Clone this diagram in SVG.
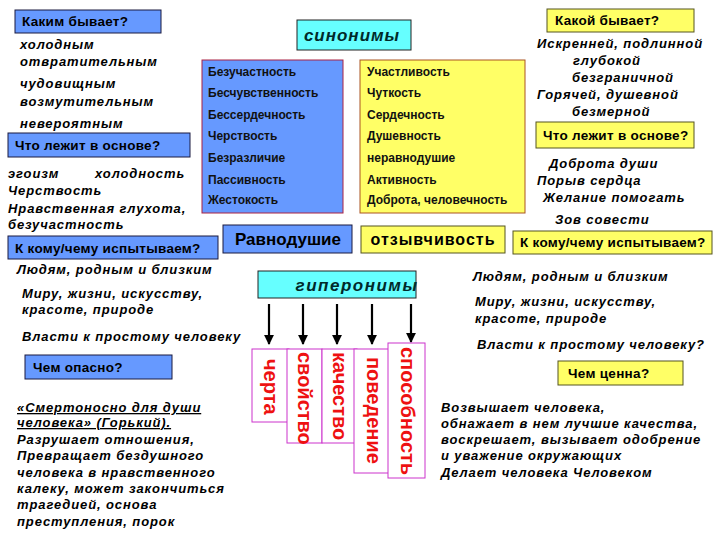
<svg xmlns="http://www.w3.org/2000/svg" width="720" height="540" viewBox="0 0 720 540">
<defs>
<style>
.bl{fill:#6699FF;stroke:#1a1a40;stroke-width:1}
.ye{fill:#FFFF66;stroke:#555520;stroke-width:1}
.cy{fill:#66FFFF;stroke:#222;stroke-width:1}
.hd{font-family:"Liberation Sans",Arial,sans-serif;font-weight:bold;font-size:13.5px;fill:#000;letter-spacing:0.3px}
.it{font-family:"Liberation Sans",Arial,sans-serif;font-weight:bold;font-style:italic;font-size:13px;fill:#000;letter-spacing:0.9px}
.sm{font-family:"Liberation Sans",Arial,sans-serif;font-weight:bold;font-size:12px;fill:#111}
.vb{fill:#fff;stroke:#CC33CC;stroke-width:1}
.vt{font-family:"Liberation Sans",Arial,sans-serif;font-weight:bold;font-size:20px;fill:#EE1111}
.con{stroke:#000;stroke-width:2.2;fill:none}
</style>
<marker id="ah" viewBox="0 0 10 10" refX="9" refY="5" markerWidth="4.5" markerHeight="4.5" orient="auto">
<path d="M0,0 L10,5 L0,10 z" fill="#000"/>
</marker>
</defs>
<rect width="720" height="540" fill="#fff"/>

<!-- left column -->
<g id="kakim">
<rect class="bl" x="15" y="10" width="146" height="23"/>
<text class="hd" x="22" y="26">Каким бывает?</text>
</g>
<g id="kakim-list">
<text class="it" x="20" y="49">холодным</text>
<text class="it" x="20" y="66">отвратительным</text>
<text class="it" x="20" y="88">чудовищным</text>
<text class="it" x="20" y="106">возмутительным</text>
<text class="it" x="20" y="128">невероятным</text>
</g>
<g id="osnova-left">
<rect class="bl" x="8" y="133" width="182" height="24"/>
<text class="hd" x="15" y="150">Что лежит в основе?</text>
</g>
<g id="osnova-left-list">
<text class="it" x="8" y="178">эгоизм</text>
<text class="it" x="95" y="178">холодность</text>
<text class="it" x="8" y="195">Черствость</text>
<text class="it" x="8" y="213">Нравственная глухота,</text>
<text class="it" x="8" y="229">безучастность</text>
</g>
<g id="komu-left">
<rect class="bl" x="8" y="236" width="210" height="23"/>
<text class="hd" x="15" y="253">К кому/чему  испытываем?</text>
</g>
<g id="komu-left-list">
<text class="it" x="17" y="274">Людям, родным и близким</text>
<text class="it" x="22" y="298">Миру, жизни, искусству,</text>
<text class="it" x="22" y="314">красоте, природе</text>
<text class="it" x="22" y="341">Власти к простому человеку</text>
</g>
<g id="opasno">
<rect class="bl" x="25" y="355" width="147" height="24"/>
<text class="hd" x="33" y="372">Чем опасно?</text>
</g>
<g id="opasno-text">
<text class="it" x="17" y="412" text-decoration="underline">«Смертоносно для души</text>
<text class="it" x="17" y="427" text-decoration="underline">человека» (Горький).</text>
<text class="it" x="17" y="444">Разрушает отношения,</text>
<text class="it" x="17" y="460">Превращает бездушного</text>
<text class="it" x="17" y="477">человека в нравственного</text>
<text class="it" x="17" y="493">калеку, может закончиться</text>
<text class="it" x="17" y="509">трагедией, основа</text>
<text class="it" x="17" y="526">преступления, порок</text>
</g>

<!-- center -->
<g id="sinonimy">
<rect class="cy" x="297" y="20" width="114" height="30"/>
<text x="352" y="41" text-anchor="middle" font-family="Liberation Sans, Arial, sans-serif" font-weight="bold" font-style="italic" font-size="17" fill="#002a2a" letter-spacing="1">синонимы</text>
</g>
<g id="blue-panel">
<rect x="202" y="60" width="141" height="153" fill="#6699FF" stroke="#aa2244" stroke-width="1"/>
<text class="sm" x="208" y="76">Безучастность</text>
<text class="sm" x="208" y="97">Бесчувственность</text>
<text class="sm" x="208" y="119">Бессердечность</text>
<text class="sm" x="208" y="140">Черствость</text>
<text class="sm" x="208" y="162">Безразличие</text>
<text class="sm" x="208" y="184">Пассивность</text>
<text class="sm" x="208" y="204">Жестокость</text>
</g>
<g id="yellow-panel">
<rect x="360" y="60" width="165" height="153" fill="#FFFF66" stroke="#aa5522" stroke-width="1"/>
<text class="sm" x="367" y="76">Участливость</text>
<text class="sm" x="367" y="97">Чуткость</text>
<text class="sm" x="367" y="119">Сердечность</text>
<text class="sm" x="367" y="140">Душевность</text>
<text class="sm" x="367" y="162">неравнодушие</text>
<text class="sm" x="367" y="184">Активность</text>
<text class="sm" x="367" y="204">Доброта, человечность</text>
</g>
<g id="ravnodushie">
<rect class="bl" x="223" y="225" width="129" height="28"/>
<text x="288" y="245" text-anchor="middle" font-family="Liberation Sans, Arial, sans-serif" font-weight="bold" font-size="17" fill="#000">Равнодушие</text>
</g>
<g id="otzyvchivost">
<rect class="ye" x="361" y="226" width="144" height="27"/>
<text x="433" y="245" text-anchor="middle" font-family="Liberation Sans, Arial, sans-serif" font-weight="bold" font-size="16" fill="#000" letter-spacing="1">отзывчивость</text>
</g>
<g id="giperonimy">
<rect class="cy" x="258" y="271" width="158" height="27"/>
<text x="357" y="291" text-anchor="middle" font-family="Liberation Sans, Arial, sans-serif" font-weight="bold" font-style="italic" font-size="17" fill="#002a2a" letter-spacing="1.5">гиперонимы</text>
</g>

<g id="connectors">
<line class="con" x1="269" y1="304" x2="269" y2="344" marker-end="url(#ah)"/>
<line class="con" x1="303" y1="304" x2="303" y2="344" marker-end="url(#ah)"/>
<line class="con" x1="337" y1="304" x2="337" y2="344" marker-end="url(#ah)"/>
<line class="con" x1="372" y1="304" x2="372" y2="344" marker-end="url(#ah)"/>
<line class="con" x1="411" y1="304" x2="411" y2="342" marker-end="url(#ah)"/>
</g>

<g id="cherta">
<rect class="vb" x="252" y="349" width="37" height="73"/>
<text class="vt" transform="translate(264,359) rotate(90)">черта</text>
</g>
<g id="svoystvo">
<rect class="vb" x="287" y="349" width="35" height="94"/>
<text class="vt" transform="translate(298,352) rotate(90)">свойство</text>
</g>
<g id="kachestvo">
<rect class="vb" x="322" y="349" width="35" height="94"/>
<text class="vt" transform="translate(333,352) rotate(90)">качество</text>
</g>
<g id="povedenie">
<rect class="vb" x="354" y="349" width="38" height="124"/>
<text class="vt" transform="translate(367,357) rotate(90)">поведение</text>
</g>
<g id="sposobnost">
<rect class="vb" x="388" y="343" width="37" height="135"/>
<text class="vt" transform="translate(401,347) rotate(90)">способность</text>
</g>

<!-- right column -->
<g id="kakoy">
<rect class="ye" x="547" y="9" width="147" height="23"/>
<text class="hd" x="555" y="25">Какой бывает?</text>
</g>
<g id="kakoy-list">
<text class="it" x="537" y="48">Искренней, подлинной</text>
<text class="it" x="573" y="65">глубокой</text>
<text class="it" x="572" y="82">безграничной</text>
<text class="it" x="537" y="99">Горячей, душевной</text>
<text class="it" x="572" y="116">безмерной</text>
</g>
<g id="osnova-right">
<rect class="ye" x="536" y="122" width="158" height="26"/>
<text class="hd" x="543" y="140">Что лежит в основе?</text>
</g>
<g id="osnova-right-list">
<text class="it" x="549" y="168">Доброта души</text>
<text class="it" x="537" y="185">Порыв сердца</text>
<text class="it" x="543" y="202">Желание помогать</text>
<text class="it" x="555" y="224">Зов совести</text>
</g>
<g id="komu-right">
<rect class="ye" x="513" y="231" width="199" height="23"/>
<text class="hd" x="520" y="247">К кому/чему испытываем?</text>
</g>
<g id="komu-right-list">
<text class="it" x="473" y="281">Людям, родным и близким</text>
<text class="it" x="475" y="306">Миру, жизни, искусству,</text>
<text class="it" x="475" y="323">красоте, природе</text>
<text class="it" x="477" y="349">Власти к простому человеку?</text>
</g>
<g id="cenna">
<rect class="ye" x="558" y="361" width="125" height="24"/>
<text class="hd" x="568" y="378">Чем ценна?</text>
</g>
<g id="cenna-text">
<text class="it" x="441" y="412">Возвышает человека,</text>
<text class="it" x="441" y="428">обнажает в нем лучшие качества,</text>
<text class="it" x="441" y="444">воскрешает, вызывает одобрение</text>
<text class="it" x="441" y="460">и уважение окружающих</text>
<text class="it" x="441" y="477">Делает человека Человеком</text>
</g>
</svg>
